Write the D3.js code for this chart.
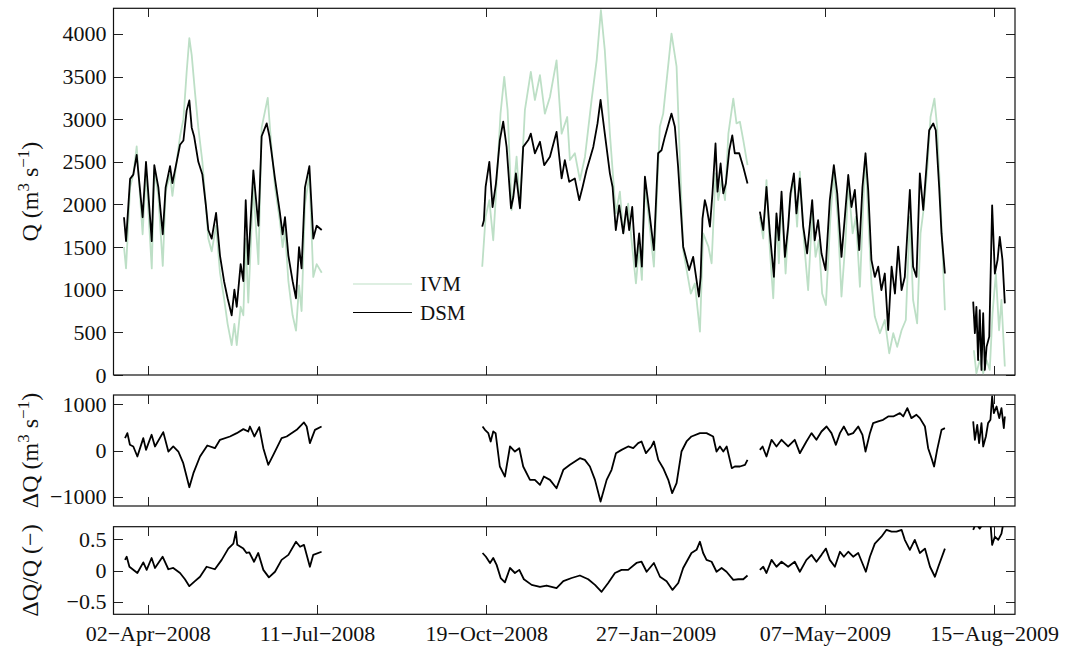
<!DOCTYPE html>
<html lang="en">
<head>
<meta charset="UTF-8">
<title>IVM vs DSM discharge</title>
<script src="https://cdn.jsdelivr.net/npm/d3@7"></script>
<style>
  body { margin: 0; background: #fff; }
  svg { display: block; font-family: "Liberation Serif", "Times New Roman", serif; }
  .tick text { font-family: "Liberation Serif", "Times New Roman", serif; font-size: 22px; fill: #111; }
</style>
</head>
<body>
<svg id="chart" width="1065" height="648"></svg>
<script>
// day offsets are counted from 02-Apr-2008; null marks a data gap
const xTickDays = [0, 100, 200, 300, 400, 500];

const qTicks = [0, 500, 1000, 1500, 2000, 2500, 3000, 3500, 4000];
const dqTicks = [-1000, 0, 1000];
const relTicks = [-0.5, 0, 0.5];

const seriesNames = ["IVM", "DSM"];

const ivmQ = [
  [-14,1500],[-12.8,1250],[-10.4,2200],[-8.5,2350],[-6.5,2680],[-3,1650],[-1,2400],[2.4,1250],[3.9,2400],
  [6.3,2100],[8.9,1280],[10.6,2150],[13.2,2350],[14.6,2100],[17.1,2500],[19.1,2800],[21.1,3000],[23,3550],
  [24.6,3950],[26,3750],[28,3300],[29.9,2900],[32.3,2500],[34.3,2000],[35.8,1600],[37.8,1450],[40.4,1750],
  [42.7,1200],[45.1,900],[47.2,600],[49.6,350],[51.2,600],[52.6,350],[54.9,800],[56.5,700],[57.9,1600],
  [59.4,850],[62.4,2200],[65.4,1300],[67.3,2900],[70.9,3250],[72.6,2800],[75.2,2200],[78.1,1800],[79.7,1500],
  [81.1,1700],[83.1,1100],[85.6,700],[87.6,520],[89.4,1050],[90.9,750],[92.9,2000],[95.5,2350],[97.8,1150],
  [99.8,1300],[102.8,1200],
  null,
  [197.6,1270],[199.6,1855],[201.8,2050],[204.1,1580],[206.1,2245],[208.4,3065],[210.6,3495],[212.6,3105],
  [215,1935],[217.9,2560],[219.9,1970],[222.8,3105],[226.3,3555],[228.7,3225],[231.7,3515],[234.6,3065],
  [237.6,3260],[241.5,3690],[244.5,2830],[247.8,3025],[249.4,2520],[252.3,2600],[255.3,2285],[258.3,2560],
  [262.2,3225],[265.2,3690],[267.7,4277],[270,3810],[273,2830],[276.5,1895],[278.9,2150],[280.9,1660],
  [283.8,2010],[285.8,1580],[288.4,1075],[290.3,1505],[291.9,1115],[293.7,2205],[295.7,1895],[299,1270],
  [302.5,2910],[304.5,3065],[309.4,4004],[312.4,3615],[316.3,1465],[320.8,955],[323.2,1075],[326.2,508],
  [328.1,1660],[331.2,1505],[333.1,1310],[335.4,2365],[337,2050],[339,2285],[341,2050],[343,2830],
  [345.9,3240],[347.8,2950],[349.8,2970],[351.8,2755],[354.3,2460],
  null,
  [361.6,1855],[363.6,1600],[365.5,2285],[367.5,1465],[369.5,900],[371.4,1855],[372.8,1310],[374.4,2050],
  [376.8,1190],[379.3,2050],[381.7,2285],[383.6,1740],[385.2,2385],[387.6,1580],[390.1,995],[392.5,1895],
  [394.5,1385],[396.4,1580],[398.4,955],[400.6,820],[403.3,1855],[405.3,2365],[407.7,1815],[409.8,920],
  [412.2,1580],[413.9,2245],[416.4,1660],[418.3,1855],[420.7,1035],[422.6,1970],[424,2560],[425.6,1855],
  [427.5,1075],[429.5,685],[432.5,490],[435.4,645],[438,255],[440.4,490],[442.7,330],[445.3,525],
  [447.8,645],[450.2,1855],[452.1,880],[454.5,605],[456.5,1660],[458.5,1970],[460.6,2440],[462.4,3025],
  [464.7,3240],[466.3,2910],[468.3,2050],[470.9,760],
  null,
  [488,290],[489.5,20],[491.5,175],[493.5,20],[495.5,175],[497.4,60],[499,720],[501,1190],[502.9,525],
  [504.3,880],[506.3,100]
];

const dsmQ = [
  [-14,1850],[-12.8,1570],[-10.4,2300],[-8.5,2350],[-6.5,2580],[-3,1850],[-1,2500],[2.4,1570],[3.9,2460],
  [6.3,2200],[8.9,1650],[10.6,2200],[13.2,2450],[14.6,2250],[17.1,2500],[19.1,2700],[21.1,2750],[23,3100],
  [24.6,3220],[26,2900],[27.4,2800],[29.9,2500],[32.3,2350],[34.3,2000],[35.8,1700],[37.8,1600],[40.4,1900],
  [42.7,1400],[45.1,1100],[47.2,900],[49.6,700],[51.2,1000],[52.6,800],[54.9,1300],[56.5,1100],[57.9,2050],
  [59.4,1300],[62.4,2400],[65.4,1750],[67.3,2800],[70.3,2950],[71.9,2800],[75.2,2300],[78.1,1900],[79.7,1650],
  [81.1,1850],[83.1,1400],[85.6,1100],[87.6,900],[89.4,1500],[90.9,1250],[92.9,2200],[95.5,2450],[97.8,1600],
  [99.8,1750],[102.8,1700],
  null,
  [197.6,1740],[198.6,1815],[199.6,2205],[201.8,2500],[203.7,1970],[205.7,2245],[208,2755],[210,2970],
  [212,2675],[214.6,1955],[216,2090],[217.5,2365],[219.9,1955],[221.8,2675],[224.8,2755],[226.3,2830],
  [228.7,2600],[231.7,2735],[234.2,2460],[237.6,2560],[241.5,2850],[244.5,2305],[246.4,2520],[249,2265],
  [252.3,2305],[254.9,2050],[256.9,2205],[259.2,2400],[263.2,2675],[265.7,2950],[267.5,3225],[270,2830],
  [273,2365],[274.6,2205],[276.5,1700],[278.5,1990],[280.9,1660],[282.8,1970],[284.4,1700],[286.2,1970],
  [288.4,1270],[290.3,1660],[291.9,1270],[293.7,2325],[295.7,2010],[299,1465],[301.5,2600],[303.5,2635],
  [305.5,2795],[309.4,3065],[311.4,2910],[313.3,2440],[316.3,1505],[319.8,1230],[322.2,1385],[325.6,920],
  [326.6,1150],[327.7,1835],[329.1,2050],[330.1,1970],[332.1,1740],[333.6,2130],[335.4,2715],[336.6,2150],
  [338.4,2480],[340,2130],[341.5,2245],[343.5,2635],[345.3,2810],[346.8,2600],[349.4,2600],[351.8,2440],
  [354.3,2245],
  null,
  [361.6,1915],[363.6,1700],[365.5,2205],[367.5,1660],[369.9,1150],[371.4,1895],[372.8,1580],[374.4,2150],
  [376.4,1385],[378.3,1740],[379.7,2130],[381.7,2365],[383.2,1895],[385.2,2305],[387.2,1740],[389.5,1425],
  [392.5,2050],[394,1580],[396,1815],[398,1425],[400.4,1230],[402.9,2050],[405.3,2460],[407.3,2130],
  [409.8,1385],[411.8,1855],[413.8,2345],[415.7,1970],[417.7,2170],[420.3,1465],[422.2,2205],[424,2600],
  [425.6,2170],[427.5,1350],[429.5,1150],[431.5,1270],[433.4,995],[435.4,1190],[437.4,527],[439.4,1270],
  [441.4,955],[443.3,1505],[445.3,995],[447.2,1150],[450.2,2170],[452.1,1270],[454.1,1150],[456.1,2365],
  [458.1,1935],[460,2440],[461.6,2870],[464,2950],[465.5,2870],[467.5,2205],[468.9,1660],[470.9,1190],
  null,
  [487.6,860],[488.6,490],[489.5,800],[490.5,175],[491.5,760],[492.5,60],[493.5,725],[494.5,60],[495.5,330],
  [497.1,450],[498.8,1990],[500.4,1190],[502,1350],[503.3,1620],[504.9,1350],[506.3,840]
];

const deltaQ = [
  [-13.4,267],[-12,375],[-10.5,123],[-8.5,87],[-6.1,-130],[-2.6,267],[-1,14],[2.3,340],[4.3,87],[9.2,397],
  [12.2,-22],[15.1,87],[18.1,-22],[21,-274],[24.6,-794],[27,-490],[30.9,-130],[35.2,108],[39.7,50],[42.7,231],
  [48.6,303],[52.6,375],[56.5,462],[59.4,411],[60.4,519],[63,303],[65.9,505],[68.3,50],[71.2,-310],[74.2,-94],
  [79.1,267],[82.1,303],[88,447],[92.3,606],[93.9,519],[95.8,159],[98.8,447],[102.7,519],
  null,
  [197.8,519],[199.2,447],[201.2,375],[202.6,195],[204.1,411],[205.5,375],[208,-346],[211,-563],[214,87],
  [216.9,-22],[219.5,50],[221.8,-346],[225.8,-635],[228.7,-635],[231.7,-743],[234,-563],[237.6,-635],
  [241.5,-815],[245.5,-418],[249.4,-310],[255.3,-166],[258.2,-202],[261.2,-346],[264.2,-635],[267.5,-1104],
  [271.1,-635],[274,-418],[276.6,-58],[279.9,14],[283.8,87],[286.8,50],[289.7,159],[291.7,195],[294.3,-58],
  [297.6,87],[299,195],[301.6,-202],[304.5,-382],[307.5,-635],[309.8,-923],[312.4,-707],[315.3,-22],
  [318.3,195],[321.2,303],[326.2,375],[330.1,375],[334,303],[336,-22],[338,87],[340,-22],[342,87],
  [345,-382],[346.8,-346],[349.8,-346],[352.8,-310],[354.3,-202],
  null,
  [361.6,14],[363.2,87],[365.5,-130],[368.5,231],[371.4,87],[374.4,231],[378.3,87],[382.2,231],[385.2,-58],
  [389.1,195],[392.1,375],[395,231],[398,411],[401,519],[403.9,375],[406.5,123],[408.9,375],[411.2,519],
  [413.8,339],[416.7,375],[419.7,519],[422.2,339],[424,-22],[426.6,375],[428.5,592],[431.5,628],[434.4,664],
  [437.4,736],[440.4,736],[444.3,808],[446.3,736],[448.7,916],[451.1,700],[454.1,772],[456.1,700],
  [459.1,519],[461,50],[463,-166],[464.5,-346],[466.3,14],[468.9,447],[470.9,483],
  null,
  [487.6,628],[488.6,231],[490,556],[491.1,159],[492.5,592],[493.5,87],[495.1,303],[496.4,592],[497.8,664],
  [498.8,1169],[499.8,808],[501.4,952],[503,700],[504.3,916],[505.7,483],[506.3,736]
];

const deltaRel = [
  [-13.4,0.17],[-12.4,0.22],[-10.8,0.06],[-6.1,-0.04],[-2.6,0.13],[-0.6,0.01],[2.3,0.20],[4.3,0.04],[8.8,0.22],
  [12.2,0.02],[15.1,0.04],[19.1,-0.04],[22,-0.14],[24.6,-0.25],[27.9,-0.17],[30.9,-0.10],[34.8,0.06],
  [39.7,0.02],[43.7,0.17],[47.6,0.35],[50.6,0.43],[52.1,0.62],[52.9,0.41],[56.5,0.35],[58.4,0.28],[60,0.29],
  [62.8,0.14],[65.3,0.28],[68.3,0.01],[71.6,-0.11],[75.2,-0.02],[79.1,0.17],[83.1,0.25],[87.6,0.46],[90,0.38],
  [92.3,0.41],[95.8,0.06],[97.8,0.25],[102.7,0.30],
  null,
  [197.8,0.28],[199.8,0.22],[202.2,0.12],[204.1,0.20],[206.1,0.09],[208.5,-0.12],[211,-0.19],[214,0.04],
  [216.9,-0.04],[219.5,0.01],[222.2,-0.14],[226.8,-0.23],[231.7,-0.26],[235.6,-0.24],[241.5,-0.28],
  [245.5,-0.17],[250.4,-0.12],[255.3,-0.08],[260.2,-0.14],[264.2,-0.23],[268.1,-0.34],[272,-0.20],[276,-0.04],
  [279.9,0.01],[283.8,0.01],[288.7,0.12],[291.7,0.14],[294.7,-0.02],[299,0.12],[302.6,-0.10],[306.5,-0.17],
  [310,-0.31],[313.4,-0.20],[316.3,0.04],[321.2,0.28],[324.2,0.33],[326.2,0.46],[328.1,0.28],[330.1,0.17],
  [333.1,0.14],[336,-0.02],[339,0.04],[341.9,-0.02],[345.9,-0.15],[348.8,-0.14],[351.8,-0.14],[354.3,-0.08],
  null,
  [361.6,0.01],[363.6,0.06],[365.5,-0.04],[368.5,0.17],[371.4,0.06],[374.4,0.14],[378.3,0.06],[382.2,0.14],
  [385.2,-0.02],[389.1,0.17],[392.1,0.25],[395,0.14],[398,0.25],[400.6,0.35],[402.9,0.17],[405.9,0.06],
  [408.9,0.30],[411.2,0.22],[413.8,0.30],[416.7,0.22],[419.7,0.28],[424.2,-0.02],[426.6,0.22],[429.5,0.43],
  [433.4,0.54],[436.4,0.65],[439.4,0.62],[442.3,0.62],[445.3,0.65],[447.2,0.49],[450.2,0.33],[453.1,0.49],
  [456.1,0.28],[459.1,0.35],[462.1,0.06],[465,-0.10],[467,0.06],[470.9,0.35],
  null,
  [487.6,0.65],[489.2,0.75],[491.5,0.67],[493.5,0.75],[495.5,0.9],[497.4,0.9],[498.8,0.41],[500.4,0.54],
  [502.4,0.49],[504.3,0.59],[505.7,0.8]
];

// ---- layout ----
const svg = d3.select("#chart");
const left = 113.5, right = 1015;
const tickLen = 9;
const ivmColor = "#bddfc6";

const dayToDate = d => new Date(Date.UTC(2008, 3, 2) + d * 864e5);

const x = d3.scaleUtc()
  .domain([dayToDate(-20.2), dayToDate(512.3)])
  .range([left, right]);

const panels = [
  { id: "q", top: 8.3, bottom: 375, domain: [0, 4300], ticks: qTicks },
  { id: "dq", top: 395, bottom: 506, domain: [-1200, 1200], ticks: dqTicks },
  { id: "rel", top: 526.7, bottom: 614.3, domain: [-0.7, 0.7], ticks: relTicks }
];

const xTicks = xTickDays.map(dayToDate);
const dateFmt = d3.utcFormat("%d\u2212%b\u2212%Y");

panels.forEach((p, i) => {
  p.y = d3.scaleLinear().domain(p.domain).range([p.bottom, p.top]);

  svg.append("clipPath").attr("id", "clip-" + p.id)
    .append("rect")
    .attr("x", left).attr("y", p.top)
    .attr("width", right - left).attr("height", p.bottom - p.top);

  const g = svg.append("g");

  g.append("g")
    .attr("transform", `translate(${left},0)`)
    .call(d3.axisLeft(p.y).tickValues(p.ticks).tickSizeInner(-tickLen).tickSizeOuter(0)
      .tickPadding(7).tickFormat(d3.format("")));

  g.append("g")
    .attr("transform", `translate(${right},0)`)
    .call(d3.axisRight(p.y).tickValues(p.ticks).tickSizeInner(-tickLen).tickSizeOuter(0).tickFormat(""));

  g.append("g")
    .attr("transform", `translate(0,${p.top})`)
    .call(d3.axisTop(x).tickValues(xTicks).tickSizeInner(-tickLen).tickSizeOuter(0).tickFormat(""));

  const bottomAxis = d3.axisBottom(x).tickValues(xTicks).tickSizeInner(-tickLen).tickSizeOuter(0)
    .tickPadding(11.5)
    .tickFormat(i === panels.length - 1 ? dateFmt : "");
  g.append("g")
    .attr("transform", `translate(0,${p.bottom})`)
    .call(bottomAxis);

  g.selectAll("g").attr("font-family", null).attr("font-size", null);
  g.selectAll(".domain").remove();
  g.selectAll(".tick line").attr("stroke", "#222").attr("shape-rendering", "crispEdges");

  svg.append("rect")
    .attr("x", left).attr("y", p.top)
    .attr("width", right - left).attr("height", p.bottom - p.top)
    .attr("fill", "none").attr("stroke", "#111").attr("stroke-width", 1.2);
});

function drawLine(panel, data, color, width) {
  const line = d3.line()
    .defined(d => d !== null)
    .x(d => x(dayToDate(d[0])))
    .y(d => panel.y(d[1]));
  svg.append("path")
    .datum(data)
    .attr("clip-path", `url(#clip-${panel.id})`)
    .attr("fill", "none")
    .attr("stroke", color)
    .attr("stroke-width", width)
    .attr("stroke-linejoin", "round")
    .attr("d", line);
}

drawLine(panels[0], ivmQ, ivmColor, 1.8);
drawLine(panels[0], dsmQ, "#000", 1.8);
drawLine(panels[1], deltaQ, "#000", 1.8);
drawLine(panels[2], deltaRel, "#000", 1.8);

// ---- y labels ----
function yLabel(cy, parts) {
  const t = svg.append("text")
    .attr("transform", `translate(38,${cy}) rotate(-90)`)
    .attr("text-anchor", "middle")
    .attr("font-size", 24)
    .attr("fill", "#111");
  let shift = 0;
  parts.forEach(([s, sup]) => {
    const dy = sup ? -9 - shift : -shift;
    shift = sup ? -9 : 0;
    t.append("tspan")
      .attr("dy", dy)
      .attr("font-size", sup ? 17 : 24)
      .text(s);
  });
}
yLabel((panels[0].top + panels[0].bottom) / 2,
  [["Q (m", false], ["3", true], [" s", false], ["\u22121", true], [")", false]]);
yLabel((panels[1].top + panels[1].bottom) / 2,
  [["\u0394Q (m", false], ["3", true], [" s", false], ["\u22121", true], [")", false]]);
yLabel((panels[2].top + panels[2].bottom) / 2,
  [["\u0394Q/Q (\u2212)", false]]);

// ---- legend ----
const legend = svg.append("g");
[[seriesNames[0], ivmColor, 284], [seriesNames[1], "#000", 312.5]].forEach(([name, color, ly]) => {
  legend.append("line")
    .attr("x1", 353).attr("x2", 412)
    .attr("y1", ly).attr("y2", ly)
    .attr("stroke", color).attr("stroke-width", 1.2);
  legend.append("text")
    .attr("x", 420).attr("y", ly).attr("dy", "0.35em")
    .attr("font-size", 21).attr("fill", "#111")
    .text(name);
});
</script>
</body>
</html>
